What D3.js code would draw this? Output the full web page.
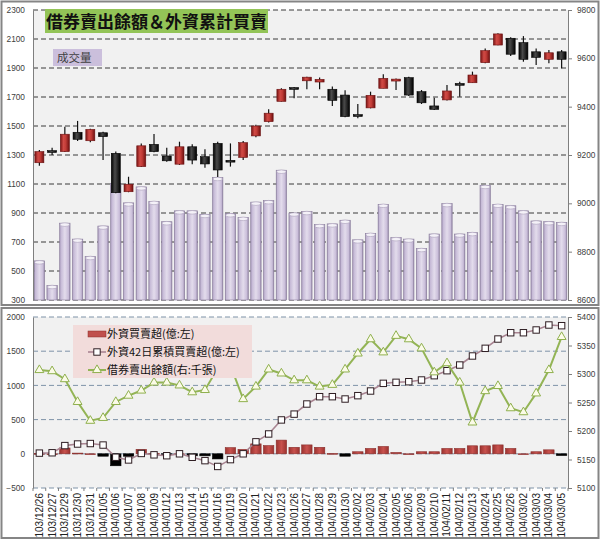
<!DOCTYPE html>
<html><head><meta charset="utf-8">
<script src="https://cdn.jsdelivr.net/npm/d3@7/dist/d3.min.js"></script>
<style>
html,body{margin:0;padding:0;background:#fff;}
svg{display:block;}
text{font-family:"Liberation Sans",Arial,sans-serif;}
.cjk{font-family:"Noto Sans CJK TC","Noto Sans CJK SC",sans-serif;}
</style></head>
<body>
<svg id="chart" width="600" height="541"></svg>
<script>
const dates = ["103/12/26","103/12/27","103/12/29","103/12/30","103/12/31","104/01/05","104/01/06","104/01/07","104/01/08","104/01/09","104/01/12","104/01/13","104/01/14","104/01/15","104/01/16","104/01/19","104/01/20","104/01/21","104/01/22","104/01/23","104/01/26","104/01/27","104/01/28","104/01/29","104/01/30","104/02/02","104/02/03","104/02/04","104/02/05","104/02/06","104/02/09","104/02/10","104/02/11","104/02/12","104/02/13","104/02/24","104/02/25","104/02/26","104/03/02","104/03/03","104/03/04","104/03/05"];
const openP  = [9168,9218,9214,9294,9259,9292,9207,9048,9152,9244,9196,9162,9234,9193,9248,9178,9190,9279,9338,9422,9479,9507,9502,9472,9448,9367,9395,9476,9506,9520,9462,9403,9428,9496,9499,9582,9655,9683,9665,9627,9596,9627];
const closeP = [9214,9216,9286,9265,9306,9276,9044,9079,9238,9214,9176,9234,9179,9163,9138,9175,9251,9320,9373,9472,9477,9522,9513,9426,9359,9365,9447,9517,9514,9448,9416,9389,9465,9493,9531,9632,9701,9617,9596,9604,9623,9596];
const highP  = [9221,9230,9317,9341,9309,9296,9214,9110,9248,9287,9230,9255,9244,9224,9255,9248,9258,9325,9389,9476,9481,9524,9521,9483,9468,9411,9462,9534,9517,9524,9469,9437,9490,9503,9545,9641,9704,9687,9692,9641,9634,9634];
const lowP   = [9156,9200,9212,9258,9253,9179,9042,9046,9150,9211,9172,9159,9162,9147,9109,9152,9179,9273,9334,9421,9435,9472,9472,9403,9356,9352,9393,9476,9469,9444,9411,9386,9426,9441,9499,9580,9654,9610,9586,9572,9580,9559];
const volume = [570,400,830,720,600,810,1105,970,1080,980,840,915,915,890,1145,895,870,975,985,1195,900,910,820,825,850,715,760,960,730,720,655,755,965,755,765,1090,960,950,915,845,840,835];
const foreignNet = [5,0,85,10,0,-35,-175,-35,65,5,-5,0,-30,-30,-75,90,65,145,120,200,95,130,95,5,-35,30,78,107,20,0,30,30,78,78,117,117,130,78,0,30,58,-25];
const foreign42 = [10,15,120,143,150,128,-50,-90,5,-15,-28,0,-51,-100,-185,-85,0,175,290,495,580,728,835,835,801,850,918,1030,1045,1054,1079,1142,1215,1298,1430,1542,1678,1770,1770,1810,1883,1873];
const shortBal = [5307,5305,5291,5251,5218,5223,5251,5262,5271,5285,5285,5280,5268,5272,5310,5315,5256,5278,5308,5301,5289,5289,5278,5281,5308,5336,5361,5338,5367,5361,5345,5303,5319,5285,5215,5270,5279,5240,5233,5266,5307,5365];
const volTicks = [300,500,700,900,1100,1300,1500,1700,1900,2100,2300];
const priceTicks = [8600,8800,9000,9200,9400,9600,9800];
const netTicks = [-500,0,500,1000,1500,2000];
const balTicks = [5100,5150,5200,5250,5300,5350,5400];
const titleText = "借券賣出餘額＆外資累計買賣";
const volLabel = "成交量";
const legendLabels = ["外資買賣超(億:左)","外資42日累積買賣超(億:左)","借券賣出餘額(右:千張)"];

const svg = d3.select("#chart");
const L = 33, R = 568;
const x = d3.scaleBand().domain(dates).range([L, R]).padding(0);
const bw = x.bandwidth();
const cx = i => x(dates[i]) + bw / 2;

const defs = svg.append("defs");
function hgrad(id, stops) {
  const g = defs.append("linearGradient").attr("id", id).attr("x1","0").attr("x2","1").attr("y1","0").attr("y2","0");
  stops.forEach(s => g.append("stop").attr("offset", s[0]).attr("stop-color", s[1]));
}
hgrad("gVol", [[0,"#9a8cae"],[0.12,"#c5b9d6"],[0.5,"#e3dcec"],[0.85,"#c9bdd9"],[1,"#8f82a3"]]);
hgrad("gRed", [[0,"#7a1414"],[0.35,"#d04a45"],[0.6,"#c23c37"],[1,"#6e1010"]]);
hgrad("gBlk", [[0,"#000"],[0.4,"#4a4a4a"],[0.6,"#333"],[1,"#000"]]);
hgrad("gNet", [[0,"#9b3330"],[0.5,"#c9524e"],[1,"#9b3330"]]);

// ===== panels =====
svg.append("rect").attr("x",1.5).attr("y",1.5).attr("width",597).attr("height",303.5).attr("fill","#fff").attr("stroke","#858585").attr("stroke-width",2);
svg.append("rect").attr("x",1.5).attr("y",308).attr("width",597).attr("height",230).attr("fill","#fff").attr("stroke","#858585").attr("stroke-width",2);

// ===== TOP PANEL =====
const T0 = 10, T1 = 300;
const yVol = d3.scaleLinear().domain([300, 2300]).range([T1, T0]);
const yPx = d3.scaleLinear().domain([8600, 9800]).range([T1, T0]);
const topG = svg.append("g");
topG.append("rect").attr("x",L).attr("y",T0).attr("width",R-L).attr("height",T1-T0).attr("fill","#f1f1f1");
topG.selectAll("line.grid").data(volTicks).join("line")
  .attr("x1",L).attr("x2",R).attr("y1",d=>yVol(d)).attr("y2",d=>yVol(d))
  .attr("stroke","#3a3a3a").attr("stroke-width",1).attr("stroke-dasharray","5,3");

// volume bars
const vbw = 10.4;
topG.selectAll("rect.vol").data(volume).join("rect")
  .attr("x",(d,i)=>cx(i)-vbw/2).attr("width",vbw)
  .attr("y",d=>yVol(d)).attr("height",d=>T1-yVol(d))
  .attr("fill","url(#gVol)").attr("stroke","#8a7d9c").attr("stroke-width",0.6);
topG.selectAll("ellipse.cap").data(volume).join("ellipse")
  .attr("cx",(d,i)=>cx(i)).attr("cy",d=>yVol(d)+1.5).attr("rx",vbw/2-0.5).attr("ry",1.8)
  .attr("fill","#f4f1f8").attr("stroke","#9c90ae").attr("stroke-width",0.5);

// axes
const axL = topG.append("g").attr("transform",`translate(${L},0)`)
  .call(d3.axisLeft(yVol).tickValues(volTicks).tickSize(0).tickPadding(8).tickFormat(d3.format("d")));
const axR = topG.append("g").attr("transform",`translate(${R},0)`)
  .call(d3.axisRight(yPx).tickValues(priceTicks).tickSize(4).tickPadding(5).tickFormat(d3.format("d")));
[axL, axR].forEach(a => {
  a.select(".domain").attr("stroke","#7f7f7f");
  a.selectAll(".tick line").attr("stroke","#7f7f7f");
  a.selectAll("text").attr("font-size","8.3px").attr("fill","#404040");
});

// candles
const cbw = 9;
const candles = topG.selectAll("g.candle").data(dates).join("g");
candles.append("line")
  .attr("x1",(d,i)=>cx(i)).attr("x2",(d,i)=>cx(i))
  .attr("y1",(d,i)=>yPx(highP[i])).attr("y2",(d,i)=>yPx(lowP[i]))
  .attr("stroke","#111").attr("stroke-width",1.2);
candles.append("rect")
  .attr("x",(d,i)=>cx(i)-cbw/2).attr("width",cbw)
  .attr("y",(d,i)=>yPx(Math.max(openP[i],closeP[i])))
  .attr("height",(d,i)=>Math.max(1.8, Math.abs(yPx(openP[i])-yPx(closeP[i]))))
  .attr("fill",(d,i)=>closeP[i]>=openP[i] ? "url(#gRed)" : "url(#gBlk)")
  .attr("stroke",(d,i)=>closeP[i]>=openP[i] ? "#6a1010" : "#000").attr("stroke-width",0.6);

// title
topG.append("rect").attr("x",45).attr("y",9).attr("width",223).attr("height",24).attr("fill","#93c457");
topG.append("text").attr("class","cjk").attr("x",46).attr("y",28).attr("font-size","17px").attr("font-weight","bold").attr("fill","#111").text(titleText);
topG.append("rect").attr("x",53).attr("y",49).attr("width",49).attr("height",17).attr("fill","#cbbfdc");
topG.append("text").attr("class","cjk").attr("x",57).attr("y",61.5).attr("font-size","11.5px").attr("fill","#404040").text(volLabel);

// ===== BOTTOM PANEL =====
const B0 = 317, B1 = 488;
const yNet = d3.scaleLinear().domain([-500, 2000]).range([B1, B0]);
const yBal = d3.scaleLinear().domain([5100, 5400]).range([B1, B0]);
const botG = svg.append("g");
botG.append("rect").attr("x",L).attr("y",B0).attr("width",R-L).attr("height",B1-B0).attr("fill","#f1f1f1");
botG.selectAll("line.grid").data(netTicks).join("line")
  .attr("x1",L).attr("x2",R).attr("y1",d=>yNet(d)).attr("y2",d=>yNet(d))
  .attr("stroke","#7f93a8").attr("stroke-width",1).attr("stroke-dasharray","5,3");

// net bars
const nbw = 10.4;
botG.selectAll("rect.net").data(foreignNet).join("rect")
  .attr("x",(d,i)=>cx(i)-nbw/2).attr("width",nbw)
  .attr("y",d=>d>=0 ? yNet(d) : yNet(0))
  .attr("height",d=>Math.max(0.8, Math.abs(yNet(d)-yNet(0))))
  .attr("fill",d=>d>=0 ? "url(#gNet)" : "#000")
  .attr("stroke",d=>d>=0 ? "#8a2e2b" : "#000").attr("stroke-width",0.6);

// 42-day cumulative line
const line42 = d3.line().x((d,i)=>cx(i)).y(d=>yNet(d));
botG.append("path").datum(foreign42).attr("d",line42).attr("fill","none").attr("stroke","#a98592").attr("stroke-width",1.6);
botG.selectAll("rect.sq").data(foreign42).join("rect")
  .attr("x",(d,i)=>cx(i)-3.2).attr("y",d=>yNet(d)-3.2).attr("width",6.4).attr("height",6.4)
  .attr("fill","#fff").attr("stroke","#2e1d22").attr("stroke-width",1);

// short balance line
const lineBal = d3.line().x((d,i)=>cx(i)).y(d=>yBal(d));
botG.append("path").datum(shortBal).attr("d",lineBal).attr("fill","none").attr("stroke","#93b455").attr("stroke-width",2);
const tri = d3.symbol().type(d3.symbolTriangle).size(34);
botG.selectAll("path.tri").data(shortBal).join("path")
  .attr("d",tri).attr("transform",(d,i)=>`translate(${cx(i)},${yBal(d)})`)
  .attr("fill","#fbfbe8").attr("stroke","#8fb04e").attr("stroke-width",1);

// axes
const bL = botG.append("g").attr("transform",`translate(${L},0)`)
  .call(d3.axisLeft(yNet).tickValues(netTicks).tickSize(0).tickPadding(8).tickFormat(d3.format("d")));
const bR = botG.append("g").attr("transform",`translate(${R},0)`)
  .call(d3.axisRight(yBal).tickValues(balTicks).tickSize(4).tickPadding(5).tickFormat(d3.format("d")));
[bL, bR].forEach(a => {
  a.select(".domain").attr("stroke","#7f7f7f");
  a.selectAll(".tick line").attr("stroke","#7f7f7f");
  a.selectAll("text").attr("font-size","8.3px").attr("fill","#404040");
});
const bX = botG.append("g").attr("transform",`translate(0,${B1})`)
  .call(d3.axisBottom(x).tickSize(0).tickPadding(0));
bX.select(".domain").remove();
bX.selectAll(".tick text")
  .attr("transform","rotate(-90)").attr("text-anchor","end")
  .attr("x",-5).attr("y",0).attr("dy","0.35em")
  .attr("font-size","10px").attr("fill","#202020");
// category boundary ticks
botG.selectAll("line.ct").data(d3.range(dates.length+1)).join("line")
  .attr("x1",i=>L+i*bw).attr("x2",i=>L+i*bw).attr("y1",B1).attr("y2",B1+3)
  .attr("stroke","#7f7f7f");

// legend
const lg = botG.append("g");
lg.append("rect").attr("x",73).attr("y",325).attr("width",179).attr("height",53).attr("fill","#f2dcdb");
const rows = [334, 352, 370];
lg.append("rect").attr("x",88).attr("y",rows[0]-3).attr("width",18).attr("height",6).attr("fill","#c0504d").attr("stroke","#8a2e2b").attr("stroke-width",0.5);
lg.append("line").attr("x1",88).attr("x2",106).attr("y1",rows[1]).attr("y2",rows[1]).attr("stroke","#a98592").attr("stroke-width",1.6);
lg.append("rect").attr("x",97-3.2).attr("y",rows[1]-3.2).attr("width",6.4).attr("height",6.4).attr("fill","#fff").attr("stroke","#2e1d22");
lg.append("line").attr("x1",88).attr("x2",106).attr("y1",rows[2]).attr("y2",rows[2]).attr("stroke","#93b455").attr("stroke-width",2);
lg.append("path").attr("d",tri).attr("transform",`translate(97,${rows[2]})`).attr("fill","#fbfbe8").attr("stroke","#8fb04e");
lg.selectAll("text").data(legendLabels).join("text").attr("class","cjk")
  .attr("x",107).attr("y",(d,i)=>rows[i]).attr("dy","0.36em")
  .attr("font-size","11px").attr("fill","#111").text(d=>d);
</script>
</body></html>
